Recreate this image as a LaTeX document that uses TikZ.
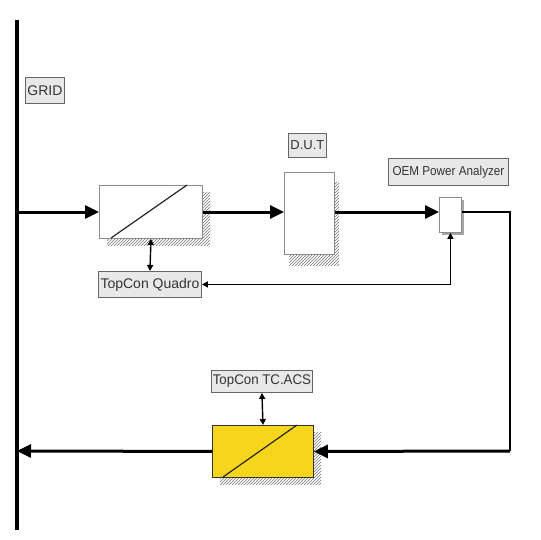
\documentclass[tikz,border=0pt]{standalone}
\usepackage{fontspec}
\setmainfont{Liberation Sans}
\usetikzlibrary{arrows.meta,patterns}
\definecolor{boxyellow}{RGB}{246,214,28}
\definecolor{lblfill}{RGB}{232,232,232}
\begin{document}
\begin{tikzpicture}[x=1pt,y=-1pt,
  lbl/.style={draw=black!60, fill=lblfill, line width=0.9pt, inner sep=0pt, font=\fontsize{14}{16}\selectfont, text=black!80, anchor=north west},
  blk/.style={draw=black!45, line width=0.9pt, fill=white, inner sep=0pt, anchor=north west},
  shadowpat/.style={pattern=north east lines, pattern color=black!55},
  mainarrow/.style={line width=3pt, -{Triangle[length=14pt,width=13pt]}},
  thinarrows/.style={line width=1.4pt, {Triangle[length=6pt,width=6pt]}-{Triangle[length=6pt,width=6pt]}},
]
\useasboundingbox (0,0) rectangle (540,540);

% grid bar
\draw[line width=4pt] (17,20) -- (17,530);
\coordinate (gtop) at (17,212);
\coordinate (gbot) at (17,451);

% labels
\node[lbl, minimum width=39pt, minimum height=26pt] (grid) at (25,77) {GRID};
\node[lbl, minimum width=38pt, minimum height=24pt] (dutl) at (288,133) {\fontsize{13}{15}\selectfont D.U.T};
\node[lbl, minimum width=120pt, minimum height=27pt] (oeml) at (388,158) {\fontsize{13}{15}\selectfont\scalebox{0.9}[1]{OEM Power Analyzer}};
\node[lbl, minimum width=103pt, minimum height=26pt] (qd) at (98,271) {TopCon Quadro};
\node[lbl, minimum width=101pt, minimum height=22pt] (tcacs) at (211,370) {\scalebox{0.95}[1]{TopCon TC.ACS}};

% shadows
\path[shadowpat] (107,192) rectangle (210,245);
\path[shadowpat] (289,182) rectangle (339,265);
\path[shadowpat] (220,432) rectangle (321,484);
\fill[black!35] (442,200) rectangle (464,235);

% blocks
\node[blk, minimum width=103pt, minimum height=53pt] (conv) at (99,185) {};
\draw[line width=1.2pt, black!85] (111,238) -- (187,185);
\node[blk, minimum width=50pt, minimum height=82pt] (dut) at (284,172) {};
\node[blk, minimum width=22pt, minimum height=35pt] (an) at (439,197) {};
\node[blk, draw=black!80, fill=boxyellow, minimum width=101pt, minimum height=52pt] (acs) at (212,425) {};
\draw[line width=1.2pt, black!85] (223,477) -- (297,425);

% main power path
\draw[mainarrow] (gtop) -- (gtop -| conv.west);
\draw[mainarrow] (gtop -| conv.east) -- (gtop -| dut.west);
\draw[mainarrow] (gtop -| dut.east) -- (gtop -| an.west);
\coordinate (rt) at (510,212);
\coordinate (rb) at (510,451);
\draw[line width=2.6pt] (gtop -| an.east) -- (rt) -- (rb);
\draw[mainarrow] (rb) -- (acs.east);
\draw[mainarrow] (acs.west) -- (gbot);

% control links
\draw[thinarrows] (conv.south) -- (qd.north);
\draw[thinarrows] (qd.east) -| (an.south);
\draw[thinarrows] (tcacs.south) -- (acs.north);
\end{tikzpicture}
\end{document}
